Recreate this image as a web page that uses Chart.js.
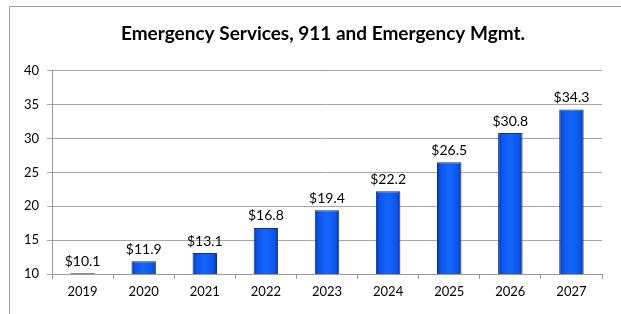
<!DOCTYPE html>
<html>
<head>
<meta charset="utf-8">
<script src="https://cdn.jsdelivr.net/npm/chart.js@4"></script>
<style>
  body { margin: 0; background: #fff; }
  #wrap { position: relative; width: 621px; height: 314px; }
  #frame { position: absolute; left: 9px; top: 6px; right: 0; bottom: 0;
           border-top: 1px solid #a0a0a0; border-left: 1px solid #a0a0a0; pointer-events: none; }
  canvas { position: absolute; left: 0; top: 0; }
</style>
</head>
<body>
<div id="wrap">
  <canvas id="chart" width="621" height="314"></canvas>
  <div id="frame"></div>
</div>
<script>
// datos del grafico
const years = ['2019', '2020', '2021', '2022', '2023', '2024', '2025', '2026', '2027'];
const spending = [10.1, 11.9, 13.1, 16.8, 19.4, 22.2, 26.5, 30.8, 34.3];
const yTicks = [10, 15, 20, 25, 30, 35, 40];

const fontName = 'Lato, "Open Sans", sans-serif';
const barPct = 0.4;

// degradado horizontal para cada barra
function barGradient(ctx) {
    const chart = ctx.chart;
    const xs = chart.scales.x;
    if (!xs || !chart.chartArea) return '#1466ff';
    const cx = xs.getPixelForValue(ctx.dataIndex);
    const half = (xs.width / years.length) * barPct / 2;
    if (!Number.isFinite(cx) || !Number.isFinite(half) || half <= 0) return '#1466ff';
    const g = chart.ctx.createLinearGradient(cx - half, 0, cx + half, 0);
    g.addColorStop(0, '#0733a0');
    g.addColorStop(0.15, '#0d55e8');
    g.addColorStop(0.5, '#1466ff');
    g.addColorStop(0.85, '#0d55e8');
    g.addColorStop(1, '#0733a0');
    return g;
}

// etiquetas de valor arriba de cada barra
const valueLabels = {
    id: 'valueLabels',
    afterDatasetsDraw(chart) {
        const c = chart.ctx;
        const meta = chart.getDatasetMeta(0);
        c.save();
        c.font = '14px ' + fontName;
        c.fillStyle = '#000';
        c.textAlign = 'center';
        c.textBaseline = 'bottom';
        meta.data.forEach((bar, i) => {
            c.fillText('$' + spending[i].toFixed(1), bar.x, bar.y - 5);
        });
        c.restore();
    }
};

// centrar el titulo sobre el area de barras
const titleShift = {
    id: 'titleShift',
    afterLayout(chart) {
        if (chart.titleBlock) chart.titleBlock.left = 44;
    }
};

new Chart(document.getElementById('chart'), {
    type: 'bar',
    data: {
        labels: years,
        datasets: [{
            data: spending,
            backgroundColor: barGradient,
            borderColor: '#0a3290',
            borderWidth: 1,
            barPercentage: barPct,
            categoryPercentage: 1
        }]
    },
    options: {
        responsive: false,
        animation: false,
        layout: { padding: { left: 0, right: 19, top: 0, bottom: 0 } },
        plugins: {
            legend: { display: false },
            tooltip: { enabled: false },
            title: {
                display: true,
                text: 'Emergency Services, 911 and Emergency Mgmt.',
                color: '#000',
                font: { family: fontName, size: 19, weight: 'bold' },
                padding: { top: 22, bottom: 26 }
            }
        },
        scales: {
            x: {
                afterFit(scale) { scale.height = 40; },
                grid: { offset: true, drawOnChartArea: false, drawTicks: true, tickLength: 5, color: '#9a9a9a' },
                border: { color: '#9a9a9a' },
                ticks: { color: '#000', font: { family: fontName, size: 13 }, padding: 5 }
            },
            y: {
                min: 10,
                max: 40,
                afterFit(scale) { scale.width = 52; },
                afterBuildTicks(scale) { scale.ticks = yTicks.map(v => ({ value: v })); },
                grid: { color: '#a6a6a6', tickLength: 5 },
                border: { color: '#9a9a9a' },
                ticks: { color: '#000', font: { family: fontName, size: 13 }, padding: 8 }
            }
        }
    },
    plugins: [valueLabels, titleShift]
});
</script>
</body>
</html>
